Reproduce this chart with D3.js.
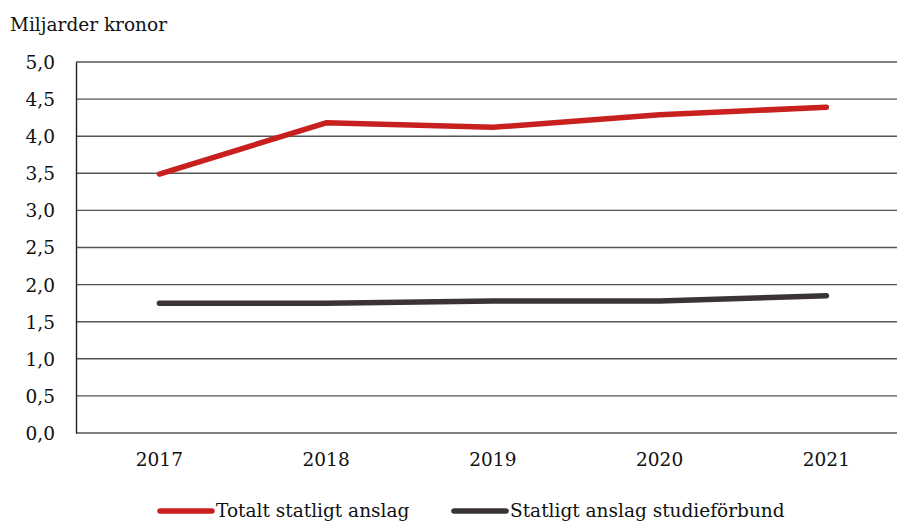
<!DOCTYPE html>
<html>
<head>
<meta charset="utf-8">
<script src="https://cdn.jsdelivr.net/npm/d3@7"></script>
<style>
  body { margin: 0; background: #fff; }
  text { font-family: "DejaVu Serif", "Liberation Serif", serif; fill: #111; }
</style>
</head>
<body>
<svg id="chart" width="897" height="522"></svg>
<script>
'use strict';

const years = ['2017', '2018', '2019', '2020', '2021'];
const totalt = [3.49, 4.18, 4.12, 4.29, 4.39];
const studieforbund = [1.75, 1.75, 1.78, 1.78, 1.85];
const yTicks = [0, 0.5, 1, 1.5, 2, 2.5, 3, 3.5, 4, 4.5, 5];
const seriesNames = ['Totalt statligt anslag', 'Statligt anslag studieförbund'];

const red = '#c8201e';
const dark = '#3a3436';
const fontSize = '18.5px';

const svg = d3.select('#chart');
const plotLeft = 76, plotTop = 62, plotBottom = 433;

let x = d3.scaleBand().domain(years).range([plotLeft, plotLeft + 5 * 166.75]);
let y = d3.scaleLinear().domain([0, 5]).range([plotBottom, plotTop]);
let fmt = d => d.toFixed(1).replace('.', ',');

// gridlines
svg.append('g')
    .selectAll('line')
    .data(yTicks)
    .join('line')
    .attr('x1', plotLeft)
    .attr('x2', 897)
    .attr('y1', d => y(d))
    .attr('y2', d => y(d))
    .attr('stroke', '#555')
    .attr('stroke-width', 1.4);

// y axis
let yAxis = svg.append('g')
    .attr('transform', 'translate(' + plotLeft + ',0)')
    .call(d3.axisLeft(y).tickValues(yTicks).tickFormat(fmt).tickSize(0).tickPadding(21));
yAxis.select('.domain').attr('stroke', '#222').attr('stroke-width', 1.4);
yAxis.selectAll('text').style('font-size', fontSize).attr('dy', '0.35em');

// x axis labels
let xAxis = svg.append('g')
    .attr('transform', 'translate(0,' + plotBottom + ')')
    .call(d3.axisBottom(x).tickSize(0).tickPadding(20));
xAxis.select('.domain').remove();
xAxis.selectAll('text').style('font-size', fontSize);

// lines
let line = d3.line()
    .x((d, i) => x(years[i]) + x.bandwidth() / 2)
    .y(d => y(d));

[[totalt, red], [studieforbund, dark]].forEach(function(s) {
    svg.append('path')
        .datum(s[0])
        .attr('d', line)
        .attr('fill', 'none')
        .attr('stroke', s[1])
        .attr('stroke-width', 5.5)
        .attr('stroke-linecap', 'round')
        .attr('stroke-linejoin', 'round');
});

// title
svg.append('text')
    .attr('x', 10)
    .attr('y', 31)
    .style('font-size', fontSize)
    .text('Miljarder kronor');

// legend
let legendX = [158, 452];
seriesNames.forEach(function(name, i) {
    let g = svg.append('g').attr('transform', 'translate(' + legendX[i] + ',511)');
    g.append('line')
        .attr('x1', 2).attr('x2', 54)
        .attr('stroke', i === 0 ? red : dark)
        .attr('stroke-width', 5.5)
        .attr('stroke-linecap', 'round');
    g.append('text')
        .attr('x', 58)
        .attr('dy', '0.35em')
        .style('font-size', fontSize)
        .text(name);
});
</script>
</body>
</html>
